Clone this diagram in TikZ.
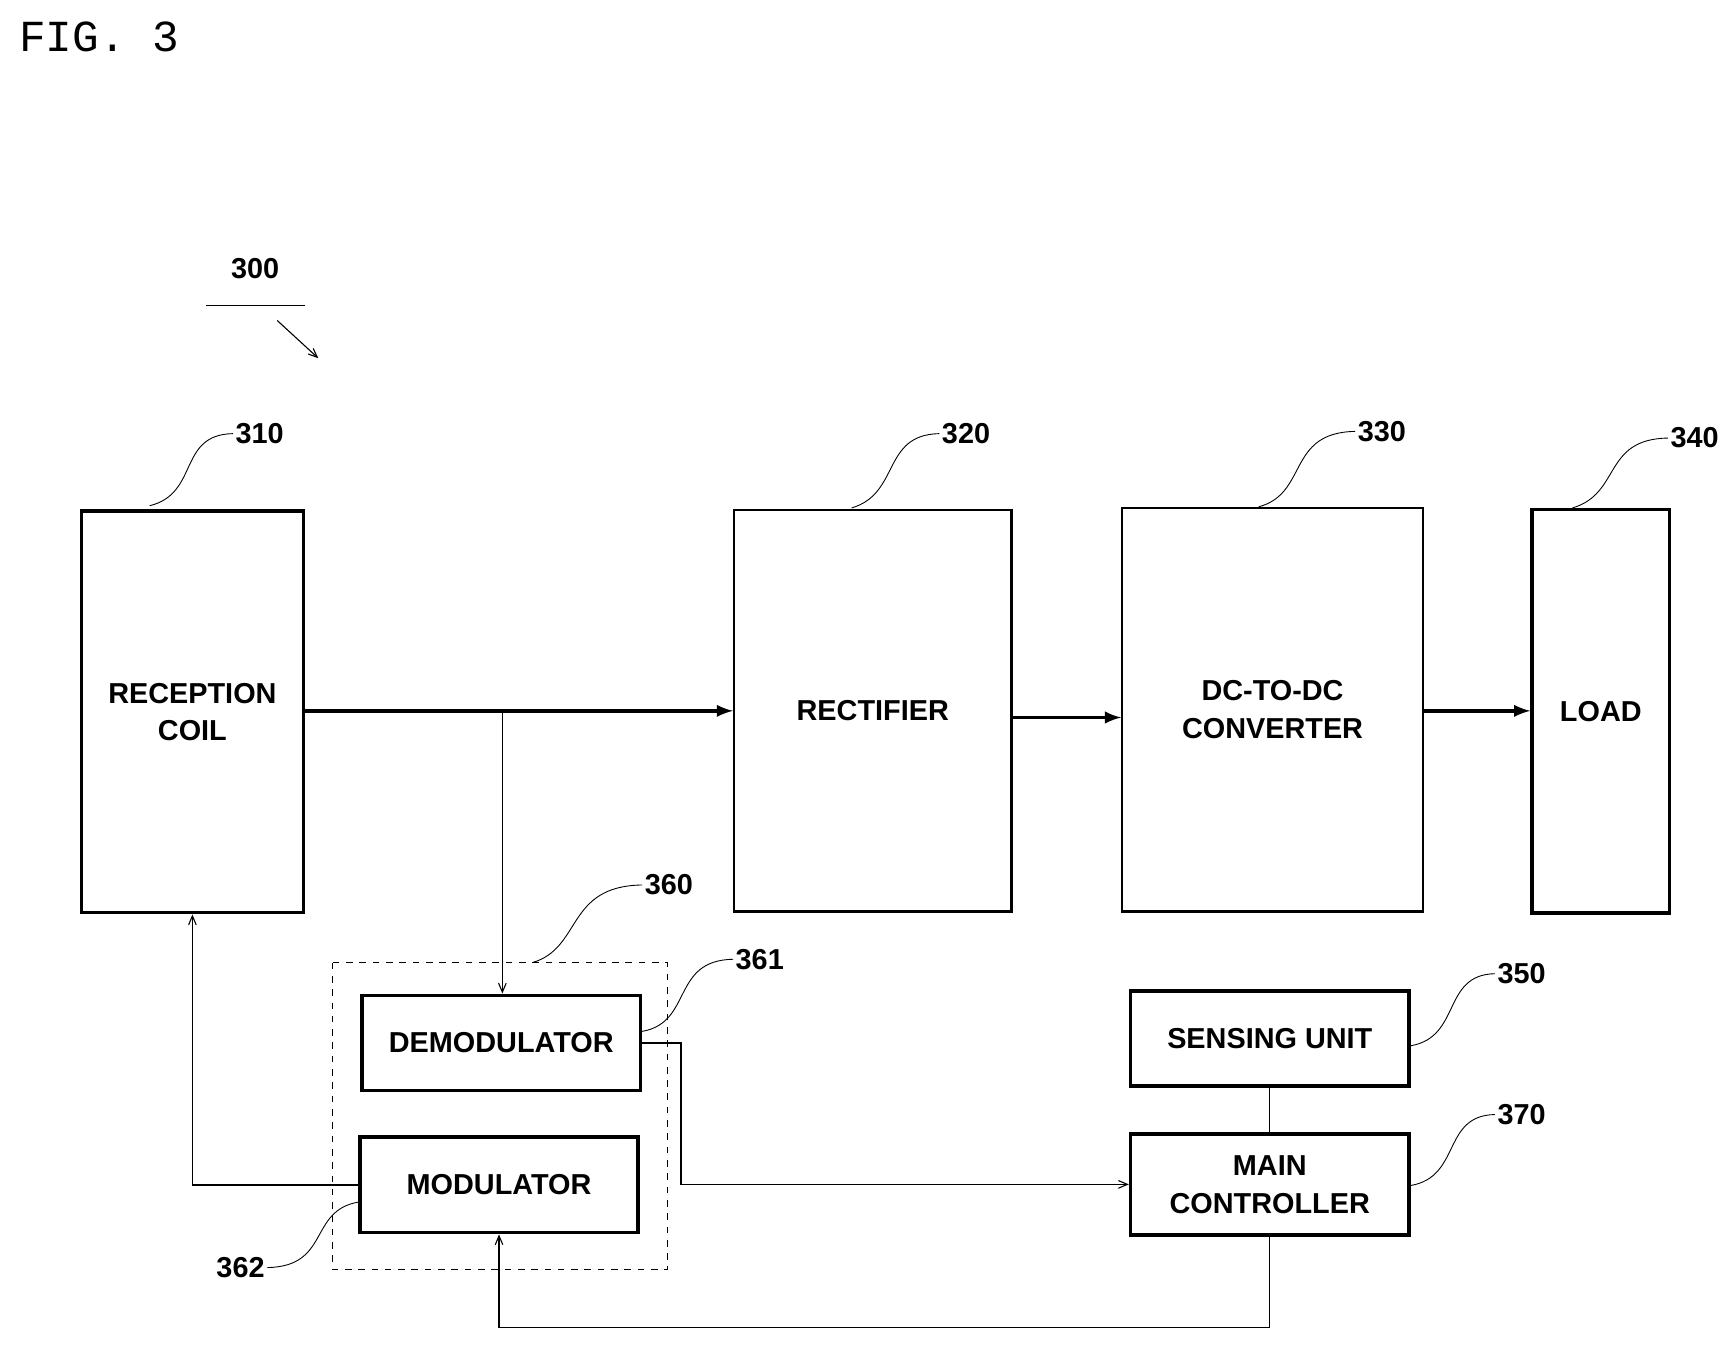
\documentclass[tikz,border=0pt]{standalone}
\usepackage{fontspec}
\setmainfont{Liberation Sans}
\setmonofont{Liberation Mono}
\usetikzlibrary{positioning,arrows,calc}
\tikzset{
block/.style={draw, line width=1.6pt, rectangle, align=center, font=\bfseries\fontsize{13}{17}\selectfont},
thinblock/.style={block, line width=1pt},
num/.style={font=\bfseries\fontsize{13}{15}\selectfont, inner sep=1pt},
power/.style={draw, line width=1.5pt, -latex},
sig/.style={draw, line width=0.5pt, -angle 45},
lead/.style={draw, line width=0.4pt}
}
\begin{document}
\begin{tikzpicture}[x=0.5pt,y=-0.5pt]
\useasboundingbox (0,0) rectangle (1560,1212);

\node[font=\ttfamily\fontsize{20}{22}\selectfont, anchor=west, inner sep=0pt] (fig) at (17,33) {FIG. 3};

% main chain
\node[block, minimum width=100pt, minimum height=181pt] (coil) at (173.5,642) {RECEPTION\\COIL};
\node[thinblock, minimum width=125pt, minimum height=181pt] (rect) at (787,641) {RECTIFIER};
\node[thinblock, minimum width=135.5pt, minimum height=182pt] (dcdc) at (1147.5,640) {DC-TO-DC\\CONVERTER};
\node[block, minimum width=62pt, minimum height=182pt] (load) at (1443.5,641.5) {LOAD};

% lower blocks
\draw[dashed, line width=0.4pt] (300,868) rectangle (602,1145);
\node[block, minimum width=125.5pt, minimum height=43pt] (demod) at (452,940.5) {DEMODULATOR};
\node[block, minimum width=125.5pt, minimum height=43pt] (mod) at (450,1068.5) {MODULATOR};
\node[block, minimum width=125.5pt, minimum height=43pt] (sense) at (1145,936.5) {SENSING UNIT};
\node[block, minimum width=125.5pt, minimum height=45.5pt] (mctl) at (1145,1068) {MAIN\\CONTROLLER};

% power path
\draw[power] (coil.east |- 0,641) -- (rect.west |- 0,641);
\draw[power] (rect.east |- 0,647) -- (dcdc.west |- 0,647);
\draw[power] (dcdc.east |- 0,641) -- (load.west |- 0,641);

% signal paths
\coordinate (tap) at (453,641);
\draw[sig] (tap) -- (tap |- demod.north);
\draw[sig] (demod.east) -- ++(35,0) |- (mctl.west);
\draw[sig] (mod.west) -| (coil.south);
\draw[sig] (mctl.south) -- ++(0,82) -| (mod.south);
\draw[lead, line width=0.5pt] (sense) -- (mctl);

% reference numerals
\node[num] (n300) at (230,242) {300};
\draw[lead] (186,275) -- (275,275);
\draw[sig] (250,289) -- (287,323);
\node[num, anchor=west] (n310) at (210,391) {310};
\node[num, anchor=west] (n320) at (847,391) {320};
\node[num, anchor=west] (n330) at (1222,389) {330};
\node[num, anchor=west] (n340) at (1504,395) {340};
\node[num, anchor=west] (n360) at (579,798) {360};
\node[num, anchor=west] (n361) at (661,865) {361};
\node[num, anchor=west] (n350) at (1348,878) {350};
\node[num, anchor=west] (n370) at (1348,1005) {370};
\node[num, anchor=east] (n362) at (241,1143) {362};

\draw[lead] (135,456) .. controls (180,445) and (160,392) .. (n310.west);
\draw[lead] (768,458) .. controls (812,445) and (795,392) .. (n320.west);
\draw[lead] (1135,457) .. controls (1180,445) and (1160,390) .. (n330.west);
\draw[lead] (1418,458) .. controls (1462,445) and (1445,396) .. (n340.west);
\draw[lead] (480,868) .. controls (525,855) and (510,799) .. (n360.west);
\draw[lead] (demod.east |- 0,930) .. controls (625,922) and (605,866) .. (n361.west);
\draw[lead] (sense.east |- 0,943) .. controls (1318,935) and (1300,879) .. (n350.west);
\draw[lead] (mctl.east |- 0,1069) .. controls (1318,1061) and (1300,1006) .. (n370.west);
\draw[lead] (mod.west |- 0,1084) .. controls (278,1092) and (298,1142) .. (n362.east);
\end{tikzpicture}
\end{document}
